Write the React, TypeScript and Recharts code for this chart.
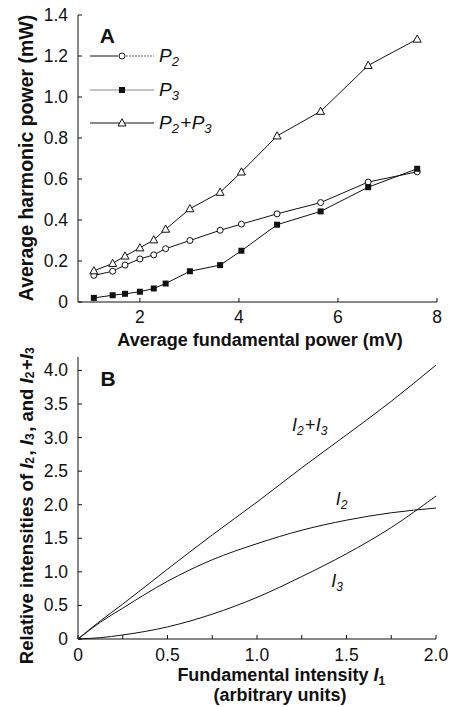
import React from 'react';
import { LineChart, Line, XAxis, YAxis, Legend, Label, ReferenceDot } from 'recharts';

// ---------- Panel A data ----------
const fundamentalPower = [1.07, 1.45, 1.7, 2.0, 2.28, 2.52, 3.01, 3.62, 4.05, 4.77, 5.65, 6.61, 7.6];
const p2Values = [0.13, 0.15, 0.18, 0.21, 0.23, 0.26, 0.3, 0.35, 0.38, 0.43, 0.485, 0.585, 0.635];
const p3Values = [0.02, 0.033, 0.04, 0.05, 0.066, 0.09, 0.15, 0.18, 0.25, 0.377, 0.442, 0.56, 0.65];
const p2p3Values = [0.152, 0.188, 0.224, 0.264, 0.303, 0.355, 0.455, 0.535, 0.634, 0.81, 0.93, 1.154, 1.282];
const aXTicks = [2, 4, 6, 8];
const aYTicks = [0, 0.2, 0.4, 0.6, 0.8, 1.0, 1.2, 1.4];

// ---------- Panel B data ----------
const intensityI1 = [0, 0.125, 0.25, 0.5, 0.75, 1.0, 1.25, 1.5, 1.75, 2.0];
const i2Values = [0, 0.25, 0.46, 0.86, 1.18, 1.42, 1.62, 1.77, 1.88, 1.95];
const i3Values = [0, 0.02, 0.06, 0.18, 0.37, 0.62, 0.93, 1.27, 1.66, 2.13];
const i2i3Values = [0, 0.27, 0.52, 1.04, 1.55, 2.04, 2.55, 3.04, 3.54, 4.08];
const bXTicks = [0, 0.25, 0.5, 0.75, 1.0, 1.25, 1.5, 1.75, 2.0];
const bYTicks = [0, 0.5, 1.0, 1.5, 2.0, 2.5, 3.0, 3.5, 4.0];

const dataA = fundamentalPower.map((x, i) => ({ x, p2: p2Values[i], p3: p3Values[i], sum: p2p3Values[i] }));
const dataB = intensityI1.map((x, i) => ({ x, i2: i2Values[i], i3: i3Values[i], sum: i2i3Values[i] }));

const FONT = '"Liberation Sans", Arial, Helvetica, sans-serif';
const INK = '#111';
const TICK_FS = 17.5;
const TITLE_FS = 18;

// layout constants
const A_W = 451, A_H = 360, A_TOP = 15, A_PLOT_H = 287, A_LEFT = 78, A_RIGHT = 14;
const A_AXIS_Y = A_TOP + A_PLOT_H;
const B_W = 451, B_H = 367, B_TOP = 17, B_LEFT = 78, B_RIGHT = 15, B_XAXIS_H = 68;
const B_AXIS_Y = B_H - B_XAXIS_H;

const fmtA = (v: number) => (v === 0 ? '0' : v.toFixed(1));
const fmtAx = (v: number) => String(v);
const fmtB = (v: number) => (v === 0 ? '0' : v.toFixed(1));

const makeYTick = (axisX: number, fmt: (v: number) => string, size: number) => (props: any) => {
  const { y, payload } = props;
  return (
    <g>
      <line x1={axisX} x2={axisX + 4} y1={y} y2={y} stroke={INK} strokeWidth={1} />
      <text x={axisX - 10} y={y} textAnchor="end" dominantBaseline="central" fontSize={size} fontFamily={FONT} fill={INK}>
        {fmt(payload.value)}
      </text>
    </g>
  );
};

const makeXTick = (axisY: number, fmt: (v: number) => string | null, size: number, dy: number) => (props: any) => {
  const { x, payload } = props;
  const label = fmt(payload.value);
  return (
    <g>
      <line x1={x} x2={x} y1={axisY} y2={axisY - 4} stroke={INK} strokeWidth={1} />
      {label !== null && (
        <text x={x} y={axisY + dy} textAnchor="middle" fontSize={size} fontFamily={FONT} fill={INK}>
          {label}
        </text>
      )}
    </g>
  );
};

const fmtBx = (v: number) => {
  if (Math.abs(v * 2 - Math.round(v * 2)) > 1e-6) return null;
  return v === 0 ? '0' : v.toFixed(1);
};

// markers
const CircleDot = (p: any) => (
  <circle key={`c-${p.index}`} cx={p.cx} cy={p.cy} r={3} fill="#fff" stroke={INK} strokeWidth={1} />
);
const SquareDot = (p: any) => (
  <rect key={`s-${p.index}`} x={p.cx - 3} y={p.cy - 3} width={6} height={6} fill={INK} />
);
const TriDot = (p: any) => (
  <polygon
    key={`t-${p.index}`}
    points={`${p.cx},${p.cy - 4.2} ${p.cx - 4},${p.cy + 3} ${p.cx + 4},${p.cy + 3}`}
    fill="#fff"
    stroke={INK}
    strokeWidth={1}
  />
);

const Sub = ({ children, size = 12, shift = 4 }: any) => (
  <>
    <tspan dy={shift} fontSize={size}>{children}</tspan>
    <tspan dy={-shift}>{'\u200A'}</tspan>
  </>
);

const LegendA = () => (
  <svg width={150} height={92} style={{ overflow: 'visible' }}>
    {/* P2 */}
    <line x1={2} x2={30} y1={11} y2={11} stroke={INK} strokeWidth={1} />
    <line x1={38} x2={66} y1={11} y2={11} stroke="#666" strokeWidth={1} strokeDasharray="2 1" />
    <circle cx={34} cy={11} r={3} fill="#fff" stroke={INK} />
    <text x={71} y={17} fontSize={19} fontStyle="italic" fontFamily={FONT} fill={INK}>
      P<Sub size={13}>2</Sub>
    </text>
    {/* P3 */}
    <line x1={2} x2={66} y1={45} y2={45} stroke="#888" strokeWidth={1} />
    <rect x={31} y={42} width={6} height={6} fill={INK} />
    <text x={71} y={51} fontSize={19} fontStyle="italic" fontFamily={FONT} fill={INK}>
      P<Sub size={13}>3</Sub>
    </text>
    {/* P2+P3 */}
    <line x1={2} x2={66} y1={78} y2={78} stroke={INK} strokeWidth={1} />
    <polygon points={`34,73.8 30,81 38,81`} fill="#fff" stroke={INK} />
    <text x={71} y={84} fontSize={19} fontStyle="italic" fontFamily={FONT} fill={INK}>
      P<Sub size={13}>2</Sub>
      <tspan fontStyle="normal">+</tspan>P<Sub size={13}>3</Sub>
    </text>
  </svg>
);

const panelLetter = (letter: string) => (props: any) => {
  const vb = props.viewBox || {};
  return (
    <text x={vb.x} y={vb.y} fontSize={21} fontWeight="bold" fontFamily={FONT} fill={INK}>
      {letter}
    </text>
  );
};

const curveLabel = (kind: 'sum' | 'i2' | 'i3') => (props: any) => {
  const vb = props.viewBox || {};
  return (
    <text x={vb.x} y={vb.y} fontSize={18} fontStyle="italic" fontFamily={FONT} fill={INK}>
      I<Sub size={12}>{kind === 'i3' ? '3' : '2'}</Sub>
      {kind === 'sum' && (
        <>
          <tspan fontStyle="normal">+</tspan>I<Sub size={12}>3</Sub>
        </>
      )}
    </text>
  );
};

const ChartA = () => (
  <LineChart width={A_W} height={A_H} data={dataA} margin={{ top: A_TOP, right: A_RIGHT, bottom: 0, left: 0 }}>
    <XAxis
      dataKey="x"
      type="number"
      domain={[0.75, 8]}
      ticks={aXTicks}
      height={A_H - A_TOP - A_PLOT_H}
      stroke={INK}
      tickLine={false}
      tick={makeXTick(A_AXIS_Y, fmtAx, TICK_FS, 21)}
      interval={0}
      allowDataOverflow
    >
      <Label
        content={() => (
          <text x={260} y={346} textAnchor="middle" fontSize={TITLE_FS} fontWeight="bold" fontFamily={FONT} fill={INK}>
            Average fundamental power (mV)
          </text>
        )}
      />
    </XAxis>
    <XAxis xAxisId="top" orientation="top" dataKey="x" type="number" domain={[0.75, 8]} height={0} tick={false} tickLine={false} stroke={INK} />
    <YAxis
      type="number"
      domain={[0, 1.4]}
      ticks={aYTicks}
      width={A_LEFT}
      stroke={INK}
      tickLine={false}
      tick={makeYTick(A_LEFT, fmtA, TICK_FS)}
      interval={0}
    >
      <Label
        content={() => (
          <text
            x={26}
            y={158}
            transform="rotate(-90, 26, 158)"
            textAnchor="middle"
            dominantBaseline="central"
            fontSize={19.5}
            fontWeight="bold"
            fontFamily={FONT}
            fill={INK}
          >
            Average harmonic power (mW)
          </text>
        )}
      />
    </YAxis>
    <YAxis yAxisId="right" orientation="right" domain={[0, 1.4]} width={0} tick={false} tickLine={false} stroke={INK} />
    <Legend
      layout="horizontal"
      verticalAlign="middle"
      align="center"
      content={() => <LegendA />}
      wrapperStyle={{ position: 'absolute', left: 88, top: 45, width: 150, height: 92 }}
    />
    <Line dataKey="p2" stroke={INK} strokeWidth={1} dot={CircleDot} isAnimationActive={false} />
    <Line dataKey="p3" stroke={INK} strokeWidth={1} dot={SquareDot} isAnimationActive={false} />
    <Line dataKey="sum" stroke={INK} strokeWidth={1} dot={TriDot} isAnimationActive={false} />
    <ReferenceDot x={1.19} y={1.262} r={0} stroke="none" fill="none" label={panelLetter('A')} />
  </LineChart>
);

const ChartB = () => (
  <LineChart width={B_W} height={B_H} data={dataB} margin={{ top: B_TOP, right: B_RIGHT, bottom: 0, left: 0 }}>
    <XAxis
      dataKey="x"
      type="number"
      domain={[0, 2]}
      ticks={bXTicks}
      height={B_XAXIS_H}
      stroke={INK}
      tickLine={false}
      tick={makeXTick(B_AXIS_Y, fmtBx, TICK_FS, 22)}
      interval={0}
    >
      <Label
        content={() => (
          <text x={282} y={341} textAnchor="middle" fontSize={TITLE_FS} fontWeight="bold" fontFamily={FONT} fill={INK}>
            Fundamental intensity <tspan fontStyle="italic">I</tspan>
            <Sub size={12}>1</Sub>
          </text>
        )}
      />
      <Label
        content={() => (
          <text x={280} y={361} textAnchor="middle" fontSize={TITLE_FS} fontWeight="bold" fontFamily={FONT} fill={INK}>
            (arbitrary units)
          </text>
        )}
      />
    </XAxis>
    <XAxis xAxisId="top" orientation="top" dataKey="x" type="number" domain={[0, 2]} height={0} tick={false} tickLine={false} stroke={INK} />
    <YAxis
      type="number"
      domain={[0, 4.2]}
      ticks={bYTicks}
      width={B_LEFT}
      stroke={INK}
      tickLine={false}
      tick={makeYTick(B_LEFT, fmtB, TICK_FS)}
      interval={0}
    >
      <Label
        content={() => (
          <text
            x={26}
            y={165}
            transform="rotate(-90, 26, 165)"
            textAnchor="middle"
            dominantBaseline="central"
            fontSize={18.5}
            fontWeight="bold"
            fontFamily={FONT}
            fill={INK}
          >
            Relative intensities of <tspan fontStyle="italic">I</tspan>
            <Sub size={12}>2</Sub>, <tspan fontStyle="italic">I</tspan>
            <Sub size={12}>3</Sub>, and <tspan fontStyle="italic">I</tspan>
            <Sub size={12}>2</Sub>+<tspan fontStyle="italic">I</tspan>
            <Sub size={12}>3</Sub>
          </text>
        )}
      />
    </YAxis>
    <YAxis yAxisId="right" orientation="right" domain={[0, 4.2]} width={0} tick={false} tickLine={false} stroke={INK} />
    <Line type="monotone" dataKey="sum" stroke={INK} strokeWidth={1} dot={false} isAnimationActive={false} />
    <Line type="monotone" dataKey="i2" stroke={INK} strokeWidth={1} dot={false} isAnimationActive={false} />
    <Line type="monotone" dataKey="i3" stroke={INK} strokeWidth={1} dot={false} isAnimationActive={false} />
    <ReferenceDot x={0.125} y={3.77} r={0} stroke="none" fill="none" label={panelLetter('B')} />
    <ReferenceDot x={1.195} y={3.1} r={0} stroke="none" fill="none" label={curveLabel('sum')} />
    <ReferenceDot x={1.44} y={1.99} r={0} stroke="none" fill="none" label={curveLabel('i2')} />
    <ReferenceDot x={1.415} y={0.77} r={0} stroke="none" fill="none" label={curveLabel('i3')} />
  </LineChart>
);

export default function App() {
  return (
    <div style={{ position: 'fixed', left: 0, top: 0, width: 451, height: 707, overflow: 'hidden', background: '#fff' }}>
      <div style={{ position: 'absolute', left: 0, top: 0 }}>
        <ChartA />
      </div>
      <div style={{ position: 'absolute', left: 0, top: 340 }}>
        <ChartB />
      </div>
    </div>
  );
}
